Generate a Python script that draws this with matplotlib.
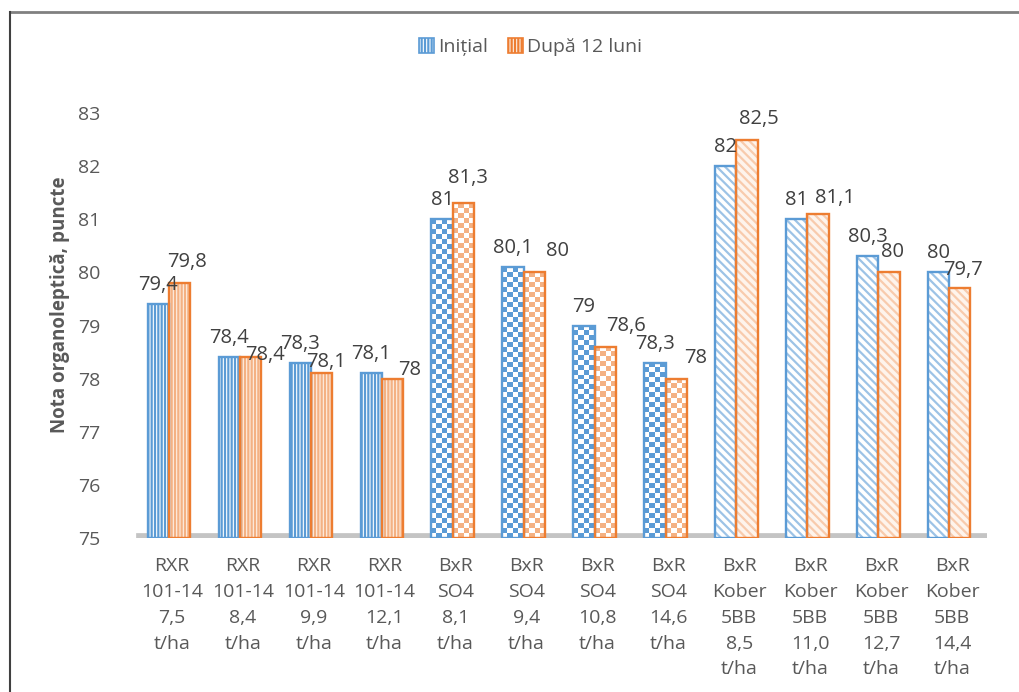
import numpy as np
import matplotlib.pyplot as plt
from matplotlib.patches import Patch
from matplotlib.colors import to_rgb

plt.rcParams['font.family'] = ['Open Sans', 'DejaVu Sans']
plt.rcParams['hatch.linewidth'] = 1.6

categories = ['RXR\n101-14\n7,5\nt/ha', 'RXR\n101-14\n8,4\nt/ha', 'RXR\n101-14\n9,9\nt/ha',
              'RXR\n101-14\n12,1\nt/ha', 'BxR\nSO4\n8,1\nt/ha', 'BxR\nSO4\n9,4\nt/ha',
              'BxR\nSO4\n10,8\nt/ha', 'BxR\nSO4\n14,6\nt/ha', 'BxR\nKober\n5BB\n8,5\nt/ha',
              'BxR\nKober\n5BB\n11,0\nt/ha', 'BxR\nKober\n5BB\n12,7\nt/ha', 'BxR\nKober\n5BB\n14,4\nt/ha']
initial = [79.4, 78.4, 78.3, 78.1, 81, 80.1, 79, 78.3, 82, 81, 80.3, 80]
after = [79.8, 78.4, 78.1, 78, 81.3, 80, 78.6, 78, 82.5, 81.1, 80, 79.7]
rootstock = ['rxr'] * 4 + ['so4'] * 4 + ['kober'] * 4
series_names = ['Inițial', 'După 12 luni']

# label nudges in pixels (dx, dy) for the "after" series, where labels crowd
after_dx = [7, 14, 4, 17, 5, 23, 21, 19, 12, 17, 4, 3]
after_dy = [21, 2, 11, 9, 25, 21, 21, 21, 21, 16, 20, 18]

blue = '#5B9BD5'
orange = '#ED7D31'
styles = {
    # rootstock: (hatch, blue hatch col, blue face, orange hatch col, orange face)
    'rxr': ('|||||', '#5B9BD5', 'white', '#F4B183', '#FDEFE4'),
    'kober': ('\\\\\\\\', '#9DC3E6', 'white', '#F8CBAD', '#FEF4EC'),
}

fig = plt.figure(figsize=(10.2, 6.92), dpi=100)
ax = fig.add_axes([0.1338, 0.2225, 0.8343, 0.6142])

x = np.arange(len(categories))
w = 0.3
ax.set_xlim(-0.5, len(categories) - 0.5)
ax.set_ylim(75, 83)


def checker(bar, color, cx=0.07, cy=0.094):
    x0, bw = bar.get_x(), bar.get_width()
    y0, bh = bar.get_y(), bar.get_height()
    nx = max(1, int(round(bw / cx)))
    ny = max(1, int(round(bh / cy)))
    grid = np.add.outer(np.arange(ny), np.arange(nx)) % 2
    img = np.ones((ny, nx, 3))
    img[grid == 1] = to_rgb(color)
    im = ax.imshow(img, extent=(x0, x0 + bw, y0, y0 + bh), origin='lower',
                   aspect='auto', interpolation='nearest', zorder=2)
    im.set_clip_path(bar)


for i in range(len(categories)):
    kind = rootstock[i]
    for j, (vals, edge, xpos) in enumerate([(initial, blue, x[i] - w / 2 - 0.04),
                                            (after, orange, x[i] + w / 2 - 0.04)]):
        v = vals[i]
        if kind == 'so4':
            base = ax.bar(xpos, v - 75, w, bottom=75, color='white', lw=0, zorder=2)[0]
            checker(base, '#5B9BD5' if j == 0 else '#F4B183')
        else:
            hatch, hb, fb, ho, fo = styles[kind]
            hc, fc = (hb, fb) if j == 0 else (ho, fo)
            ax.bar(xpos, v - 75, w, bottom=75, facecolor=fc, edgecolor=hc,
                   hatch=hatch, lw=0, zorder=2)
        ax.bar(xpos, v - 75, w, bottom=75, fill=False, edgecolor=edge, lw=1.7, zorder=3)

ax.set_xlim(-0.5, len(categories) - 0.5)
ax.set_ylim(75, 83)

# grey floor under the bars
ax.axhline(75, xmin=0.005, xmax=0.995, color='#C4C4C4', lw=7, zorder=1)


def fmt(v):
    return f'{v:g}'.replace('.', ',')


for i in range(len(categories)):
    ax.annotate(fmt(initial[i]), (x[i] - w / 2 - 0.04, initial[i]), xytext=(0, 19 * 0.72),
                textcoords='offset points', ha='center', va='center',
                fontsize=14.5, color='#404040', zorder=5)
    ax.annotate(fmt(after[i]), (x[i] + w / 2 - 0.04, after[i]),
                xytext=(after_dx[i] * 0.72, after_dy[i] * 0.72),
                textcoords='offset points', ha='center', va='center',
                fontsize=14.5, color='#404040', zorder=5)

ax.set_xticks(x)
ax.set_xticklabels(categories, fontsize=14, color='#595959', linespacing=1.55, va='top')
ax.set_yticks(range(75, 84))
ax.tick_params(axis='x', length=0, pad=14)
ax.tick_params(axis='y', length=0, pad=26, labelsize=14, labelcolor='#595959')
for s in ax.spines.values():
    s.set_visible(False)

fig.text(60 / 1020, 1 - 305 / 692, 'Nota organoleptică, puncte', rotation=90,
         ha='center', va='center', fontsize=13.5, fontweight='bold', color='#595959')

handles = [Patch(facecolor='white', edgecolor=blue, hatch='|||||', lw=1.2),
           Patch(facecolor='#FDEFE4', edgecolor=orange, hatch='|||||', lw=1.2)]
fig.legend(handles, series_names, loc='center', bbox_to_anchor=(0.52, 0.932), ncol=2,
           frameon=False, fontsize=14, labelcolor='#595959', handlelength=0.8,
           handleheight=0.8, handletextpad=0.2, columnspacing=1.0)

# chart frame
fig.add_artist(plt.Line2D([10 / 1020, 1], [1 - 12 / 692, 1 - 12 / 692], color='#808080', lw=2))
fig.add_artist(plt.Line2D([10 / 1020, 10 / 1020], [0, 1 - 12 / 692], color='#404040', lw=1.5))

fig.savefig('out.png', dpi=100)
